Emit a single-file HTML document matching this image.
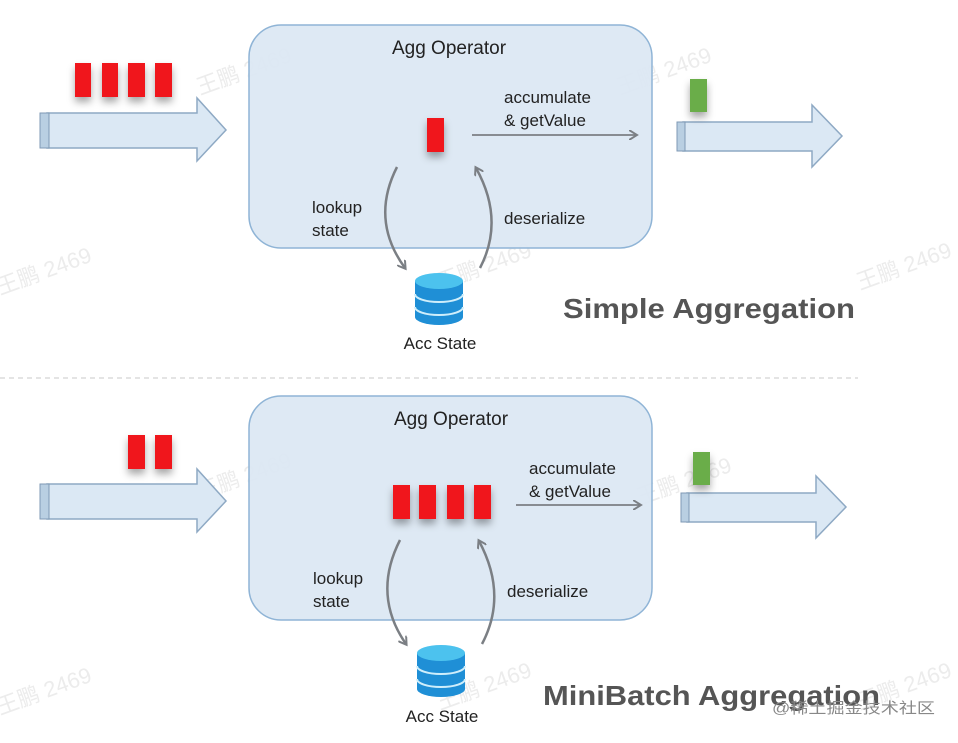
<!DOCTYPE html>
<html><head><meta charset="utf-8"><style>
body{margin:0;background:#fff;}
svg text{font-family:"Liberation Sans","Noto Sans CJK SC",sans-serif;}
</style></head><body>
<svg width="958" height="738" viewBox="0 0 958 738" xmlns="http://www.w3.org/2000/svg">
<defs>
<filter id="sh" x="-100%" y="-50%" width="300%" height="200%"><feDropShadow dx="0" dy="5" stdDeviation="4" flood-color="#000" flood-opacity="0.35"/></filter>
<marker id="ah" markerWidth="10" markerHeight="10" refX="7" refY="5" orient="auto" markerUnits="userSpaceOnUse"><path d="M0,0 L8,5 L0,10" fill="none" stroke="#7b7f84" stroke-width="2"/></marker>
<g id="db">
<path d="M0,8 v36 a24,8 0 0 0 48,0 v-36" fill="#1f8fd6"/>
<ellipse cx="24" cy="8" rx="24" ry="8" fill="#4cc2ee"/>
<path d="M0,21 a24,8 0 0 0 48,0 M0,34 a24,8 0 0 0 48,0" fill="none" stroke="#cfeefb" stroke-width="2"/>
</g>
</defs>
<g fill="#ececec" font-size="22">
<text x="620" y="95" transform="rotate(-20 620 95)">王鹏 2469</text>
<text x="200" y="95" transform="rotate(-20 200 95)">王鹏 2469</text>
<text x="0" y="295" transform="rotate(-20 0 295)">王鹏 2469</text>
<text x="440" y="290" transform="rotate(-20 440 290)">王鹏 2469</text>
<text x="860" y="290" transform="rotate(-20 860 290)">王鹏 2469</text>
<text x="200" y="500" transform="rotate(-20 200 500)">王鹏 2469</text>
<text x="640" y="505" transform="rotate(-20 640 505)">王鹏 2469</text>
<text x="0" y="715" transform="rotate(-20 0 715)">王鹏 2469</text>
<text x="440" y="710" transform="rotate(-20 440 710)">王鹏 2469</text>
<text x="860" y="710" transform="rotate(-20 860 710)">王鹏 2469</text>
</g>

<!-- TOP -->
<rect x="249" y="25" width="403" height="223" rx="32" fill="#dbe7f3" stroke="#8fb4d6" stroke-width="1.5" fill-opacity="0.92"/>
<text x="449" y="54" font-size="19" text-anchor="middle" fill="#222">Agg Operator</text>
<path d="M47,113 H197 V98 L226,130 L197,161 V148 H47 Z" fill="#dbe8f4" stroke="#8ea9c4" stroke-width="1.5"/>
<rect x="40" y="113" width="9" height="35" fill="#b9cfe2" stroke="#7f9ab5"/>
<g fill="#f0141c" filter="url(#sh)">
<rect x="75" y="63" width="16" height="34"/><rect x="102" y="63" width="16" height="34"/><rect x="128" y="63" width="17" height="34"/><rect x="155" y="63" width="17" height="34"/>
<rect x="427" y="118" width="17" height="34"/>
</g>
<line x1="472" y1="135" x2="636" y2="135" stroke="#7b7f84" stroke-width="1.8" marker-end="url(#ah)"/>
<text x="504" y="103" font-size="17" fill="#222">accumulate</text>
<text x="504" y="126" font-size="17" fill="#222">&amp; getValue</text>
<path d="M683,122 H812 V105 L842,136 L812,167 V151 H683 Z" fill="#dbe8f4" stroke="#8ea9c4" stroke-width="1.5"/>
<rect x="677" y="122" width="8" height="29" fill="#b9cfe2" stroke="#7f9ab5"/>
<rect x="690" y="79" width="17" height="33" fill="#6aad48" filter="url(#sh)"/>
<path d="M397,167 Q370,220 405,268" fill="none" stroke="#7b7f84" stroke-width="2.5" marker-end="url(#ah)"/>
<path d="M480,268 Q505,220 476,168" fill="none" stroke="#7b7f84" stroke-width="2.5" marker-end="url(#ah)"/>
<text x="312" y="213" font-size="17" fill="#222">lookup</text>
<text x="312" y="236" font-size="17" fill="#222">state</text>
<text x="504" y="224" font-size="17" fill="#222">deserialize</text>
<use href="#db" x="415" y="273"/>
<text x="440" y="349" font-size="17" text-anchor="middle" fill="#222">Acc State</text>
<text x="563" y="318" font-size="28" font-weight="bold" fill="#555" textLength="292" lengthAdjust="spacingAndGlyphs">Simple Aggregation</text>

<line x1="0" y1="378" x2="858" y2="378" stroke="#c8c8c8" stroke-dasharray="5,4"/>

<!-- BOTTOM -->
<rect x="249" y="396" width="403" height="224" rx="32" fill="#dbe7f3" stroke="#8fb4d6" stroke-width="1.5" fill-opacity="0.92"/>
<text x="451" y="425" font-size="19" text-anchor="middle" fill="#222">Agg Operator</text>
<path d="M47,484 H197 V469 L226,501 L197,532 V519 H47 Z" fill="#dbe8f4" stroke="#8ea9c4" stroke-width="1.5"/>
<rect x="40" y="484" width="9" height="35" fill="#b9cfe2" stroke="#7f9ab5"/>
<g fill="#f0141c" filter="url(#sh)">
<rect x="128" y="435" width="17" height="34"/><rect x="155" y="435" width="17" height="34"/>
<rect x="393" y="485" width="17" height="34"/><rect x="419" y="485" width="17" height="34"/><rect x="447" y="485" width="17" height="34"/><rect x="474" y="485" width="17" height="34"/>
</g>
<line x1="516" y1="505" x2="640" y2="505" stroke="#7b7f84" stroke-width="1.8" marker-end="url(#ah)"/>
<text x="529" y="474" font-size="17" fill="#222">accumulate</text>
<text x="529" y="497" font-size="17" fill="#222">&amp; getValue</text>
<path d="M687,493 H816 V476 L846,507 L816,538 V522 H687 Z" fill="#dbe8f4" stroke="#8ea9c4" stroke-width="1.5"/>
<rect x="681" y="493" width="8" height="29" fill="#b9cfe2" stroke="#7f9ab5"/>
<rect x="693" y="452" width="17" height="33" fill="#6aad48" filter="url(#sh)"/>
<path d="M400,540 Q372,595 406,644" fill="none" stroke="#7b7f84" stroke-width="2.5" marker-end="url(#ah)"/>
<path d="M482,644 Q508,595 479,541" fill="none" stroke="#7b7f84" stroke-width="2.5" marker-end="url(#ah)"/>
<text x="313" y="584" font-size="17" fill="#222">lookup</text>
<text x="313" y="607" font-size="17" fill="#222">state</text>
<text x="507" y="597" font-size="17" fill="#222">deserialize</text>
<use href="#db" x="417" y="645"/>
<text x="442" y="722" font-size="17" text-anchor="middle" fill="#222">Acc State</text>
<text x="543" y="705" font-size="28" font-weight="bold" fill="#555" textLength="337" lengthAdjust="spacingAndGlyphs">MiniBatch Aggregation</text>
<text x="772" y="713" font-size="15" fill="#888" textLength="163" lengthAdjust="spacingAndGlyphs">@稀土掘金技术社区</text>
</svg>
</body></html>
